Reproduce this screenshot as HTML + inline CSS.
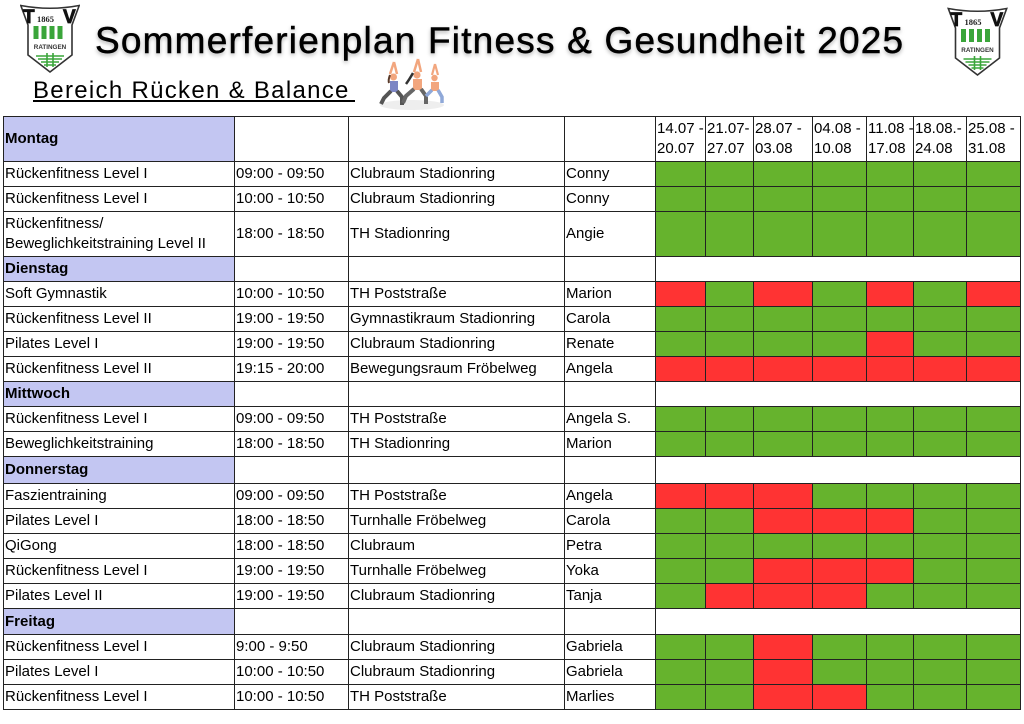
<!DOCTYPE html>
<html>
<head>
<meta charset="utf-8">
<style>
  html,body{margin:0;padding:0;background:#fff;}
  body{width:1024px;height:724px;position:relative;overflow:hidden;font-family:"Liberation Sans",Arial,sans-serif;color:#000;}
  .title{position:absolute;left:95px;top:22px;font-size:37px;line-height:37px;letter-spacing:1.2px;white-space:nowrap;text-shadow:0 2px 4px rgba(0,0,0,0.35);-webkit-text-stroke:0.5px #000;}
  .sub{position:absolute;left:33px;top:79px;font-size:24px;line-height:24px;letter-spacing:1.3px;white-space:nowrap;}
  .subline{position:absolute;left:33px;top:100px;width:322px;height:2px;background:#000;}
  .logo{position:absolute;}
  .grid{position:absolute;left:3px;top:116px;display:grid;background:#222;padding:1px;gap:1px;
    grid-template-columns:230px 113px 215px 90px 49px 47px 58px 53px 46px 52px 53px;
    grid-template-rows:44px 24px 24px 44px 24px 24px 24px 24px 24px 24px 24px 24px 26px 24px 24px 24px 24px 24px 25px 24px 24px 24px;}
  .grid>div{background:#fff;font-size:15px;line-height:20px;display:flex;align-items:center;padding-left:1px;white-space:nowrap;overflow:visible;}
  .grid>div.d{background:#c3c6f2;font-weight:bold;}
  .grid>div.g{background:#66b32d;padding:0;}
  .grid>div.r{background:#ff3333;padding:0;}
  .grid>div.s{grid-column:5 / 12;}
</style>
</head>
<body>

<!-- left logo -->
<svg class="logo" style="left:20px;top:4px" width="60" height="70" viewBox="0 0 60 70">
  <path d="M0.8,1.5 Q30,7 59.2,1.5 L52,21 L52,51 L30,68 L8,51 L8,21 Z" fill="#fff" stroke="#333" stroke-width="1.6"/>
  <text x="3" y="19" font-family="Liberation Sans" font-weight="bold" font-size="19" fill="#111" stroke="#111" stroke-width="0.8">T</text>
  <text x="17" y="18" font-family="Liberation Serif" font-weight="bold" font-size="8.5" fill="#222">1865</text>
  <text x="43" y="19" font-family="Liberation Sans" font-weight="bold" font-size="19" fill="#111" stroke="#111" stroke-width="0.8">V</text>
  <rect x="13.5" y="22" width="5" height="13" fill="#3aa53a"/>
  <rect x="21.5" y="22" width="5" height="13" fill="#3aa53a"/>
  <rect x="29.5" y="22" width="5" height="13" fill="#3aa53a"/>
  <rect x="37.5" y="22" width="5" height="13" fill="#3aa53a"/>
  <text x="30" y="45" text-anchor="middle" font-family="Liberation Sans" font-weight="bold" font-size="6.3" fill="#333">RATINGEN</text>
  <path d="M16,52 L44,52 M18,55 L42,55 M21,58 L39,58 M27,49 L27,63 M33,49 L33,63 M24,61 L36,61" stroke="#3aa53a" stroke-width="1.6" fill="none"/>
</svg>

<!-- right logo -->
<svg class="logo" style="left:947px;top:7px" width="61" height="70" viewBox="0 0 60 70">
  <path d="M0.8,1.5 Q30,7 59.2,1.5 L52,21 L52,51 L30,68 L8,51 L8,21 Z" fill="#fff" stroke="#333" stroke-width="1.6"/>
  <text x="3" y="19" font-family="Liberation Sans" font-weight="bold" font-size="19" fill="#111" stroke="#111" stroke-width="0.8">T</text>
  <text x="17" y="18" font-family="Liberation Serif" font-weight="bold" font-size="8.5" fill="#222">1865</text>
  <text x="43" y="19" font-family="Liberation Sans" font-weight="bold" font-size="19" fill="#111" stroke="#111" stroke-width="0.8">V</text>
  <rect x="13.5" y="22" width="5" height="13" fill="#3aa53a"/>
  <rect x="21.5" y="22" width="5" height="13" fill="#3aa53a"/>
  <rect x="29.5" y="22" width="5" height="13" fill="#3aa53a"/>
  <rect x="37.5" y="22" width="5" height="13" fill="#3aa53a"/>
  <text x="30" y="45" text-anchor="middle" font-family="Liberation Sans" font-weight="bold" font-size="6.3" fill="#333">RATINGEN</text>
  <path d="M16,52 L44,52 M18,55 L42,55 M21,58 L39,58 M27,49 L27,63 M33,49 L33,63 M24,61 L36,61" stroke="#3aa53a" stroke-width="1.6" fill="none"/>
</svg>

<div class="title">Sommerferienplan Fitness &amp; Gesundheit 2025</div>
<div class="sub">Bereich Rücken &amp; Balance</div>
<div class="subline"></div>

<!-- yoga figures -->
<svg class="logo" style="left:376px;top:58px" width="72" height="54" viewBox="0 0 72 54">
  <ellipse cx="36" cy="47" rx="32" ry="5" fill="#eee"/>
  <path d="M18,4 L14,16 M18,4 L21,16" stroke="#f2a67e" stroke-width="2.5" fill="none"/>
  <circle cx="17.5" cy="19" r="3.5" fill="#f2a67e"/>
  <path d="M14,17 Q12,22 13,25" stroke="#5a3a2a" stroke-width="2" fill="none"/>
  <path d="M14,23 L22,23 L22,34 L14,34 Z" fill="#7d86c4"/>
  <path d="M15,33 L8,40 L5,46 M21,33 L26,39 L26,47" stroke="#555" stroke-width="4" fill="none"/>
  <path d="M42,1 L38,14 M42,1 L45,14" stroke="#f2a67e" stroke-width="2.5" fill="none"/>
  <circle cx="41" cy="17" r="3.6" fill="#f2a67e"/>
  <path d="M37,15 Q33,22 30,26" stroke="#333" stroke-width="2.5" fill="none"/>
  <path d="M37,21 L46,21 L46,32 L37,32 Z" fill="#f2a67e"/>
  <path d="M38,31 L30,38 L27,45 M45,31 L50,38 L50,46" stroke="#666" stroke-width="4" fill="none"/>
  <path d="M59,6 L56,17 M59,6 L62,17" stroke="#f2a67e" stroke-width="2.2" fill="none"/>
  <circle cx="58.5" cy="20" r="3.2" fill="#f2a67e"/>
  <path d="M55,24 L63,24 L63,33 L55,33 Z" fill="#f2a67e"/>
  <path d="M56,32 L50,38 M62,32 L66,39 L66,45" stroke="#8fa8d8" stroke-width="3.5" fill="none"/>
</svg>

<div class="grid">
  <div class="d">Montag</div><div></div><div></div><div></div>
  <div>14.07 -<br>20.07</div><div>21.07-<br>27.07</div><div>28.07 -<br>03.08</div><div>04.08 -<br>10.08</div><div>11.08 -<br>17.08</div><div>18.08.-<br>24.08</div><div>25.08 -<br>31.08</div>

  <div>Rückenfitness Level I</div><div>09:00 - 09:50</div><div>Clubraum Stadionring</div><div>Conny</div>
  <div class="g"></div><div class="g"></div><div class="g"></div><div class="g"></div><div class="g"></div><div class="g"></div><div class="g"></div>

  <div>Rückenfitness Level I</div><div>10:00 - 10:50</div><div>Clubraum Stadionring</div><div>Conny</div>
  <div class="g"></div><div class="g"></div><div class="g"></div><div class="g"></div><div class="g"></div><div class="g"></div><div class="g"></div>

  <div>Rückenfitness/<br>Beweglichkeitstraining Level II</div><div>18:00 - 18:50</div><div>TH Stadionring</div><div>Angie</div>
  <div class="g"></div><div class="g"></div><div class="g"></div><div class="g"></div><div class="g"></div><div class="g"></div><div class="g"></div>

  <div class="d">Dienstag</div><div></div><div></div><div></div><div class="s"></div>

  <div>Soft Gymnastik</div><div>10:00 - 10:50</div><div>TH Poststraße</div><div>Marion</div>
  <div class="r"></div><div class="g"></div><div class="r"></div><div class="g"></div><div class="r"></div><div class="g"></div><div class="r"></div>

  <div>Rückenfitness Level II</div><div>19:00 - 19:50</div><div>Gymnastikraum Stadionring</div><div>Carola</div>
  <div class="g"></div><div class="g"></div><div class="g"></div><div class="g"></div><div class="g"></div><div class="g"></div><div class="g"></div>

  <div>Pilates Level I</div><div>19:00 - 19:50</div><div>Clubraum Stadionring</div><div>Renate</div>
  <div class="g"></div><div class="g"></div><div class="g"></div><div class="g"></div><div class="r"></div><div class="g"></div><div class="g"></div>

  <div>Rückenfitness Level II</div><div>19:15 - 20:00</div><div>Bewegungsraum Fröbelweg</div><div>Angela</div>
  <div class="r"></div><div class="r"></div><div class="r"></div><div class="r"></div><div class="r"></div><div class="r"></div><div class="r"></div>

  <div class="d">Mittwoch</div><div></div><div></div><div></div><div class="s"></div>

  <div>Rückenfitness Level I</div><div>09:00 - 09:50</div><div>TH Poststraße</div><div>Angela S.</div>
  <div class="g"></div><div class="g"></div><div class="g"></div><div class="g"></div><div class="g"></div><div class="g"></div><div class="g"></div>

  <div>Beweglichkeitstraining</div><div>18:00 - 18:50</div><div>TH Stadionring</div><div>Marion</div>
  <div class="g"></div><div class="g"></div><div class="g"></div><div class="g"></div><div class="g"></div><div class="g"></div><div class="g"></div>

  <div class="d">Donnerstag</div><div></div><div></div><div></div><div class="s"></div>

  <div>Faszientraining</div><div>09:00 - 09:50</div><div>TH Poststraße</div><div>Angela</div>
  <div class="r"></div><div class="r"></div><div class="r"></div><div class="g"></div><div class="g"></div><div class="g"></div><div class="g"></div>

  <div>Pilates Level I</div><div>18:00 - 18:50</div><div>Turnhalle Fröbelweg</div><div>Carola</div>
  <div class="g"></div><div class="g"></div><div class="r"></div><div class="r"></div><div class="r"></div><div class="g"></div><div class="g"></div>

  <div>QiGong</div><div>18:00 - 18:50</div><div>Clubraum</div><div>Petra</div>
  <div class="g"></div><div class="g"></div><div class="g"></div><div class="g"></div><div class="g"></div><div class="g"></div><div class="g"></div>

  <div>Rückenfitness Level I</div><div>19:00 - 19:50</div><div>Turnhalle Fröbelweg</div><div>Yoka</div>
  <div class="g"></div><div class="g"></div><div class="r"></div><div class="r"></div><div class="r"></div><div class="g"></div><div class="g"></div>

  <div>Pilates Level II</div><div>19:00 - 19:50</div><div>Clubraum Stadionring</div><div>Tanja</div>
  <div class="g"></div><div class="r"></div><div class="r"></div><div class="r"></div><div class="g"></div><div class="g"></div><div class="g"></div>

  <div class="d">Freitag</div><div></div><div></div><div></div><div class="s"></div>

  <div>Rückenfitness Level I</div><div>9:00 - 9:50</div><div>Clubraum Stadionring</div><div>Gabriela</div>
  <div class="g"></div><div class="g"></div><div class="r"></div><div class="g"></div><div class="g"></div><div class="g"></div><div class="g"></div>

  <div>Pilates Level I</div><div>10:00 - 10:50</div><div>Clubraum Stadionring</div><div>Gabriela</div>
  <div class="g"></div><div class="g"></div><div class="r"></div><div class="g"></div><div class="g"></div><div class="g"></div><div class="g"></div>

  <div>Rückenfitness Level I</div><div>10:00 - 10:50</div><div>TH Poststraße</div><div>Marlies</div>
  <div class="g"></div><div class="g"></div><div class="r"></div><div class="r"></div><div class="g"></div><div class="g"></div><div class="g"></div>
</div>

</body>
</html>
